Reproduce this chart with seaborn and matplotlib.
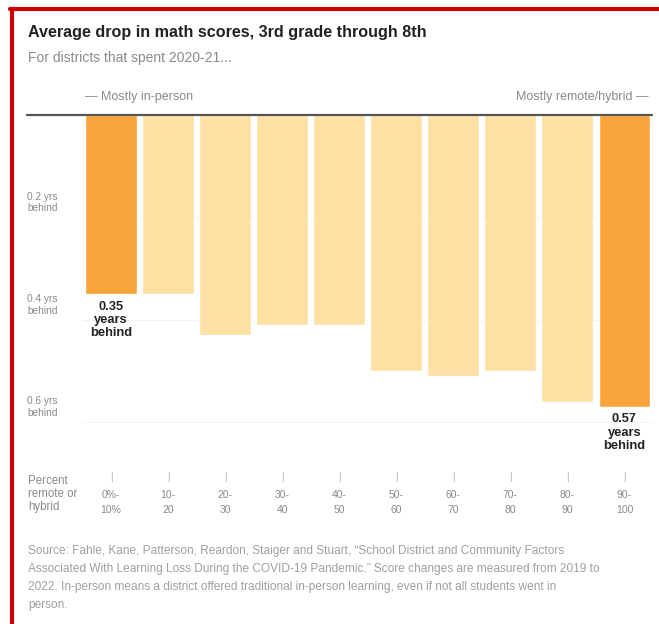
import matplotlib
matplotlib.use("Agg")
import matplotlib.pyplot as plt
import matplotlib.transforms as mtransforms
from matplotlib.lines import Line2D
import seaborn as sns

# Chart data
bins = ["0-10", "10-20", "20-30", "30-40", "40-50", "50-60", "60-70", "70-80", "80-90", "90-100"]
drop_years = [0.35, 0.35, 0.43, 0.41, 0.41, 0.50, 0.51, 0.50, 0.56, 0.57]
highlight = [True, False, False, False, False, False, False, False, False, True]
range_top = ["0%-", "10-", "20-", "30-", "40-", "50-", "60-", "70-", "80-", "90-"]
range_bottom = ["10%", "20", "30", "40", "50", "60", "70", "80", "90", "100"]
tick_vals = [0.2, 0.4, 0.6]
tick_labels = ["0.2 yrs\nbehind", "0.4 yrs\nbehind", "0.6 yrs\nbehind"]

DARK = "#f7a53b"
LIGHT = "#fde0a4"
GRAY = "#8a8a8a"

sns.set_style("white")
plt.rcParams["font.family"] = ["Liberation Sans", "DejaVu Sans"]

fig = plt.figure(figsize=(6.59, 6.24), dpi=100)
W, H = 659, 624

def fx(px):
    return px / W

def fy(py):
    return 1 - py / H

ax = fig.add_axes([fx(82.5), fy(440), fx(653) - fx(82.5), (440 - 115) / H])

palette = {b: (DARK if h else LIGHT) for b, h in zip(bins, highlight)}
sns.barplot(x=bins, y=drop_years, hue=bins, palette=palette, legend=False,
            width=0.91, saturation=1, ax=ax, zorder=2)
ax.set_ylim(0.635, 0)
ax.set_xlim(-0.5, len(bins) - 0.5)
ax.set_xticks([])
ax.set_yticks([])
ax.set_xlabel("")
ax.set_ylabel("")
for s in ax.spines.values():
    s.set_visible(False)

# faint gridlines behind bars
for v in tick_vals:
    ax.axhline(v, color="#f3f3f3", lw=0.8, zorder=0)

# y labels sitting just above each value
trans = mtransforms.blended_transform_factory(fig.transFigure, ax.transData)
for v, lab in zip(tick_vals, tick_labels):
    ax.text(fx(27), v - 0.008, lab, transform=trans, ha="left", va="bottom",
            fontsize=7.3, color=GRAY, linespacing=1.2)

# value annotations
for i, (v, h) in enumerate(zip(drop_years, highlight)):
    if h:
        ax.text(i, v + 0.013, f"{v:.2f}\nyears\nbehind", ha="center", va="top",
                fontsize=9.3, fontweight="bold", color="#222222", linespacing=1.15)

# baseline
fig.add_artist(Line2D([fx(27), fx(652)], [fy(115), fy(115)], color="#555555", lw=1.6))

# titles
fig.text(fx(28), fy(32), "Average drop in math scores, 3rd grade through 8th",
         fontsize=11.6, fontweight="bold", color="#222222", va="center")
fig.text(fx(28), fy(58), "For districts that spent 2020-21...",
         fontsize=10, color=GRAY, va="center")
fig.text(fx(85), fy(97), "\u2014 Mostly in-person", fontsize=9, color=GRAY, va="center")
fig.text(fx(649), fy(97), "Mostly remote/hybrid \u2014", fontsize=9, color=GRAY,
         va="center", ha="right")

# bottom table
fig.text(fx(28), fy(494), "Percent\nremote or\nhybrid", fontsize=8.3, color=GRAY,
         va="center", ha="left", linespacing=1.15)
xtrans = mtransforms.blended_transform_factory(ax.transData, fig.transFigure)
for i, (a, b) in enumerate(zip(range_top, range_bottom)):
    ax.text(i, fy(477), "|", transform=xtrans, ha="center", va="center",
            fontsize=7, color="#aaaaaa")
    ax.text(i, fy(495), a, transform=xtrans, ha="center", va="center",
            fontsize=7.5, color=GRAY)
    ax.text(i, fy(510), b, transform=xtrans, ha="center", va="center",
            fontsize=7.5, color=GRAY)

# footer
footer = ("Source: Fahle, Kane, Patterson, Reardon, Staiger and Stuart, \u201cSchool District and Community Factors\n"
          "Associated With Learning Loss During the COVID-19 Pandemic.\u201d Score changes are measured from 2019 to\n"
          "2022. In-person means a district offered traditional in-person learning, even if not all students went in\n"
          "person.")
fig.text(fx(28), fy(545), footer, fontsize=8.6, color="#a0a0a0", va="top", ha="left",
         linespacing=1.68)

# red frame
fig.add_artist(Line2D([fx(12), fx(12)], [fy(9), 0], color="#cc0000", lw=3))
fig.add_artist(Line2D([fx(10), 1], [fy(9), fy(9)], color="#cc0000", lw=3))

fig.savefig("out.png", dpi=100)
